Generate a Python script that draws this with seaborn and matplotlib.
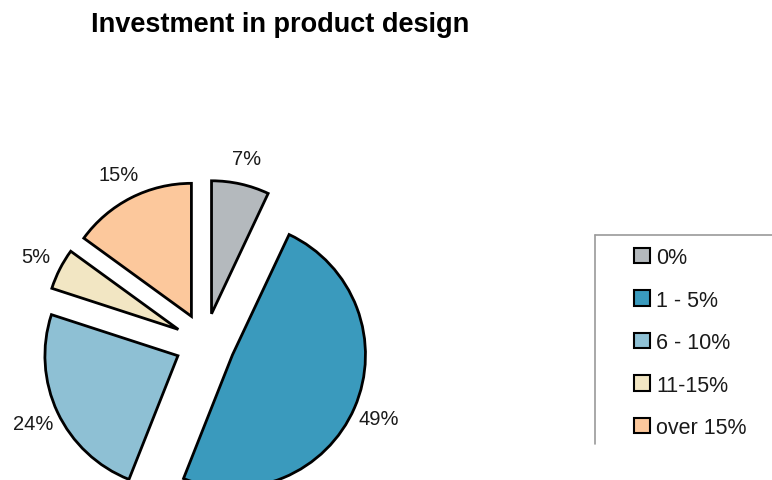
import matplotlib
matplotlib.use("Agg")
import matplotlib.pyplot as plt
import seaborn as sns
from matplotlib.patches import Patch
from matplotlib.lines import Line2D

# Share of companies by investment level in product design (percent)
categories = ["0%", "1 - 5%", "6 - 10%", "11-15%", "over 15%"]
shares = [7, 49, 24, 5, 15]
colors = ["#B4B9BD", "#3A9ABD", "#8EC0D4", "#F2E6C3", "#FCC89C"]

sns.set_theme(style="white")
plt.rcParams["font.family"] = ["Liberation Sans", "DejaVu Sans"]

W, H = 772, 481
fig = plt.figure(figsize=(W / 100, H / 100), dpi=100)
ax = fig.add_axes([0, 0, 1, 1])

R = 133.0            # pie radius in pixels
cx, cy = 205, 344    # pie centre, pixels from the top-left corner

wedges, texts, autotexts = ax.pie(
    shares,
    explode=[0.225] * len(shares),
    startangle=90,
    counterclock=False,
    colors=colors,
    autopct=lambda p: f"{p:.0f}%",
    pctdistance=1.2,
    wedgeprops=dict(edgecolor="black", linewidth=2.0),
    textprops=dict(fontsize=14.5, color="#1a1a1a"),
)
ax.set_aspect("auto")
ax.set_xlim(-cx / R, (W - cx) / R)
ax.set_ylim(-(H - cy) / R, cy / R)
ax.axis("off")

fig.text(280 / W, 1 - 25 / H, "Investment in product design",
         ha="center", va="center", fontsize=19.5, fontweight="bold", color="black")

handles = [Patch(facecolor=c, edgecolor="black", linewidth=1.5) for c in colors]
fig.legend(handles, categories, loc="upper left",
           bbox_to_anchor=(634 / W, 1 - 248 / H),
           frameon=False, fontsize=15.5, handlelength=0.75, handleheight=0.75,
           handletextpad=0.28, labelspacing=1.0, borderaxespad=0, borderpad=0,
           labelcolor="#1a1a1a")

# legend box border (top and left edges)
fig.add_artist(Line2D([595 / W, 1.0], [1 - 236 / H] * 2, transform=fig.transFigure,
                      color="#9a9a9a", lw=1.2))
fig.add_artist(Line2D([595 / W] * 2, [1 - 236 / H, 1 - 445 / H], transform=fig.transFigure,
                      color="#9a9a9a", lw=1.2))

fig.savefig("out.png", dpi=100)
